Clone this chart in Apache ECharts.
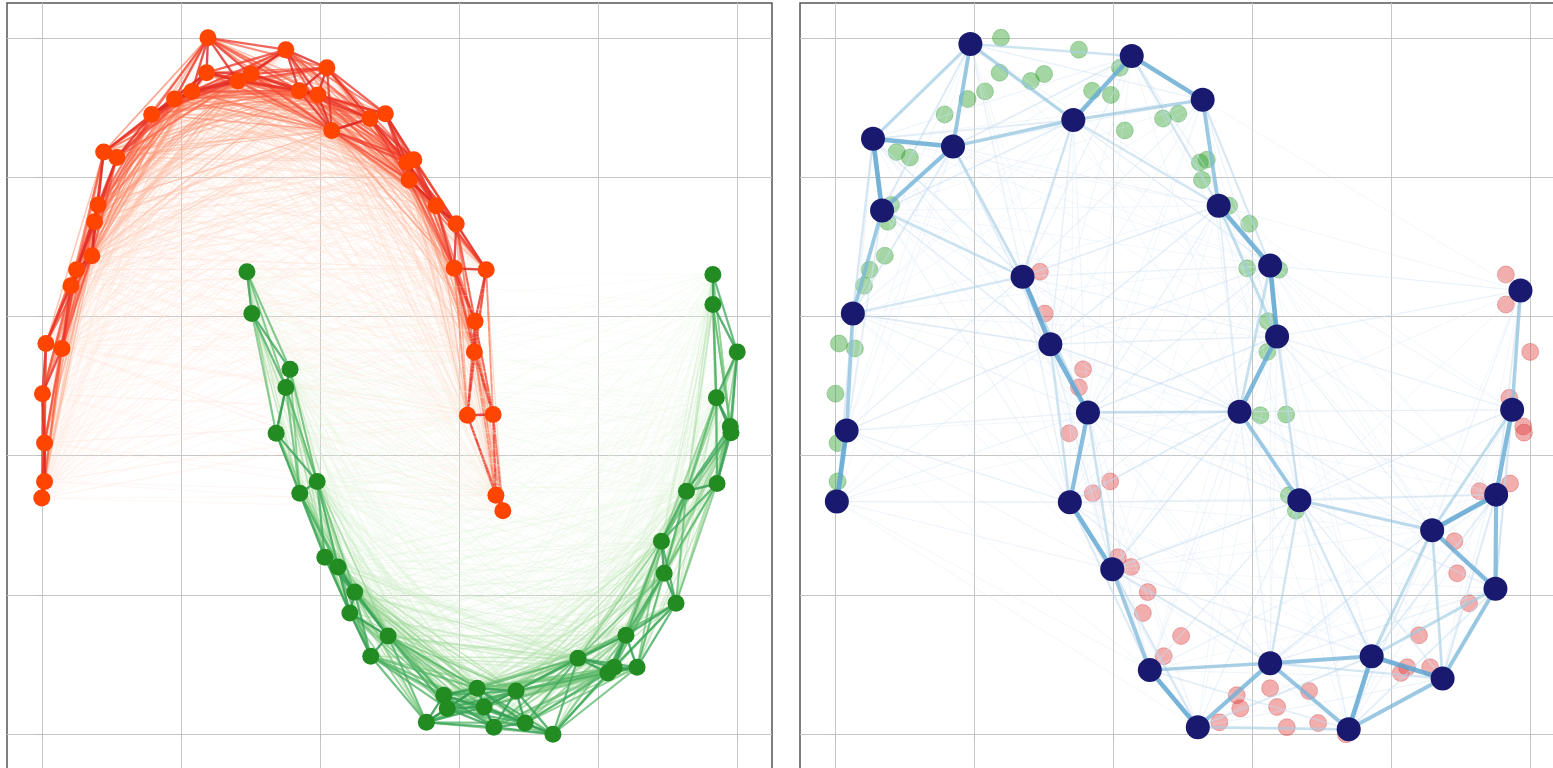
<!DOCTYPE html>
<html>
<head>
<meta charset="utf-8">
<script src="https://cdn.jsdelivr.net/npm/echarts@6/dist/echarts.min.js"></script>
<style>
  html, body { margin: 0; padding: 0; background: #ffffff; overflow: hidden; }
  /* the right-hand panel continues a little past the window edge */
  #chart { width: 1580px; height: 780px; }
</style>
</head>
<body>
<div id="chart"></div>
<script>
// Upper moon (class A), scaled coordinates
const moonAX = [0.239,0.237,0.282,0.301,0.216,0.191,0.158,0.089,0.108,0.081,0.076,0.072,0.050,0.042,0.006,0.029,0.001,0.004,0.004,0.000,
                0.351,0.370,0.397,0.410,0.417,0.472,0.494,0.525,0.535,0.528,0.567,0.596,0.593,0.639,0.623,0.622,0.612,0.649,0.653,0.663];
const moonAY = [1.000,0.950,0.938,0.948,0.923,0.912,0.890,0.836,0.828,0.760,0.736,0.687,0.667,0.644,0.561,0.554,0.489,0.418,0.363,0.339,
                0.983,0.924,0.918,0.957,0.867,0.884,0.891,0.821,0.825,0.796,0.759,0.733,0.669,0.667,0.593,0.549,0.458,0.459,0.343,0.321];

// Lower moon (class B)
const moonBX = [0.295,0.302,0.357,0.351,0.337,0.396,0.371,0.407,0.426,0.450,0.443,0.498,0.473,0.578,0.583,0.553,0.626,0.636,0.650,
                0.682,0.695,0.735,0.771,0.814,0.823,0.840,0.856,0.891,0.895,0.912,0.927,0.971,0.990,0.991,0.970,1.000,0.965,0.965];
const moonBY = [0.664,0.604,0.524,0.498,0.432,0.363,0.346,0.254,0.240,0.204,0.174,0.141,0.112,0.056,0.037,0.017,0.066,0.039,0.010,
                0.062,0.016,0.000,0.109,0.088,0.096,0.142,0.096,0.277,0.231,0.188,0.349,0.360,0.442,0.433,0.483,0.549,0.617,0.660];

// Landmark nodes of the coarse graph
const landmarkX = [0.195,0.427,0.343,0.055,0.170,0.068,0.529,0.552,0.626,0.636,0.582,0.668,0.270,0.310,0.364,0.338,
                   0.399,0.026,0.017,0.003,0.986,0.974,0.951,0.859,0.950,0.453,0.626,0.772,0.874,0.522,0.739];
const landmarkY = [0.991,0.974,0.882,0.855,0.844,0.752,0.911,0.759,0.673,0.571,0.463,0.336,0.657,0.560,0.462,0.333,
                   0.237,0.604,0.436,0.334,0.637,0.466,0.344,0.293,0.209,0.092,0.102,0.112,0.080,0.010,0.007];

// Grid / tick positions on both axes
const gridTicks = [0, 0.2, 0.4, 0.6, 0.8, 1.0];

// Sequential colormaps (9 stops each)
const REDS   = ['#fff5f0','#fee0d2','#fcbba1','#fc9272','#fb6a4a','#ef3b2c','#cb181d','#a50f15','#67000d'];
const GREENS = ['#f7fcf5','#e5f5e0','#c7e9c0','#a1d99b','#74c476','#41ab5d','#238b45','#006d2c','#00441b'];
const BLUES  = ['#f7fbff','#deebf7','#c6dbef','#9ecae1','#6baed6','#4292c6','#2171b5','#08519c','#08306b'];

function hexToRgb(h) {
  return [parseInt(h.slice(1,3),16), parseInt(h.slice(3,5),16), parseInt(h.slice(5,7),16)];
}
function cmap(stops, t) {
  t = Math.max(0, Math.min(1, t));
  const pos = t * (stops.length - 1);
  const i = Math.min(Math.floor(pos), stops.length - 2);
  const f = pos - i;
  const a = hexToRgb(stops[i]), b = hexToRgb(stops[i + 1]);
  const c = a.map((v, k) => Math.round(v + (b[k] - v) * f));
  return 'rgb(' + c.join(',') + ')';
}

// Graph with Gaussian edge weights (optionally cut at maxDist), weakest edges first
function kernelEdges(xs, ys, sigma, maxDist) {
  const out = [];
  for (let i = 0; i < xs.length; i++) {
    for (let j = i + 1; j < xs.length; j++) {
      const dx = xs[i] - xs[j], dy = ys[i] - ys[j];
      const d2 = dx * dx + dy * dy;
      if (maxDist && d2 > maxDist * maxDist) continue;
      out.push({ i, j, w: Math.exp(-d2 / (2 * sigma * sigma)) });
    }
  }
  out.sort((a, b) => a.w - b.w);
  return out;
}

function edgeData(xs, ys, sigma, maxDist, style) {
  return kernelEdges(xs, ys, sigma, maxDist).map(e => ({
    coords: [[xs[e.i], ys[e.i]], [xs[e.j], ys[e.j]]],
    lineStyle: style(e.w)
  }));
}

const zip = (xs, ys) => xs.map((x, i) => [x, ys[i]]);

const redEdges = edgeData(moonAX, moonAY, 0.22, 0, w => ({
  color: cmap(REDS, 0.12 + 0.58 * w), width: 0.8 + 1.6 * w, opacity: 0.3 + 0.55 * w
}));
const greenEdges = edgeData(moonBX, moonBY, 0.22, 0, w => ({
  color: cmap(GREENS, 0.12 + 0.58 * w), width: 0.8 + 1.6 * w, opacity: 0.3 + 0.55 * w
}));
const blueEdges = edgeData(landmarkX, landmarkY, 0.16, 0.62, w => ({
  color: cmap(BLUES, 0.16 + 0.48 * w), width: 0.8 + 4.8 * w, opacity: 0.4 + 0.55 * w
}));

function axisFor(g) {
  return {
    gridIndex: g, type: 'value', min: -0.05, max: 1.05,
    axisLine: { show: false },
    axisLabel: { show: false },
    axisTick: { show: true, customValues: gridTicks, length: 4, lineStyle: { color: '#bbbbbb' } },
    splitLine: { show: true, lineStyle: { color: '#c6c6c6', width: 1 } }
  };
}

const chart = echarts.init(document.getElementById('chart'), null, { renderer: 'canvas' });

chart.setOption({
  animation: false,
  backgroundColor: '#ffffff',
  grid: [
    { left: 7, width: 765, top: 3, height: 766, show: true, borderColor: '#555555', borderWidth: 1.5, backgroundColor: '#ffffff' },
    { left: 800, width: 765, top: 3, height: 766, show: true, borderColor: '#555555', borderWidth: 1.5, backgroundColor: '#ffffff' }
  ],
  xAxis: [axisFor(0), axisFor(1)],
  yAxis: [axisFor(0), axisFor(1)],
  series: [
    // Left: full similarity graph inside each class
    { type: 'lines', coordinateSystem: 'cartesian2d', xAxisIndex: 0, yAxisIndex: 0, silent: true, z: 1, data: redEdges },
    { type: 'lines', coordinateSystem: 'cartesian2d', xAxisIndex: 0, yAxisIndex: 0, silent: true, z: 1, data: greenEdges },
    { type: 'scatter', xAxisIndex: 0, yAxisIndex: 0, symbolSize: 17, z: 3,
      itemStyle: { color: '#ff4500', opacity: 1 }, data: zip(moonAX, moonAY) },
    { type: 'scatter', xAxisIndex: 0, yAxisIndex: 0, symbolSize: 17, z: 3,
      itemStyle: { color: '#228b22', opacity: 1 }, data: zip(moonBX, moonBY) },

    // Right: samples in the background, landmark graph on top
    { type: 'scatter', xAxisIndex: 1, yAxisIndex: 1, symbolSize: 17, z: 1,
      itemStyle: { color: 'rgba(52,165,52,0.45)', borderColor: 'rgba(40,140,40,0.3)', borderWidth: 1, opacity: 1 },
      data: zip(moonAX, moonAY) },
    { type: 'scatter', xAxisIndex: 1, yAxisIndex: 1, symbolSize: 17, z: 1,
      itemStyle: { color: 'rgba(225,60,60,0.42)', borderColor: 'rgba(200,40,40,0.3)', borderWidth: 1, opacity: 1 },
      data: zip(moonBX, moonBY) },
    { type: 'lines', coordinateSystem: 'cartesian2d', xAxisIndex: 1, yAxisIndex: 1, silent: true, z: 2, data: blueEdges },
    { type: 'scatter', xAxisIndex: 1, yAxisIndex: 1, symbolSize: 24, z: 4,
      itemStyle: { color: '#191970', opacity: 1 }, data: zip(landmarkX, landmarkY) }
  ]
});
</script>
</body>
</html>
